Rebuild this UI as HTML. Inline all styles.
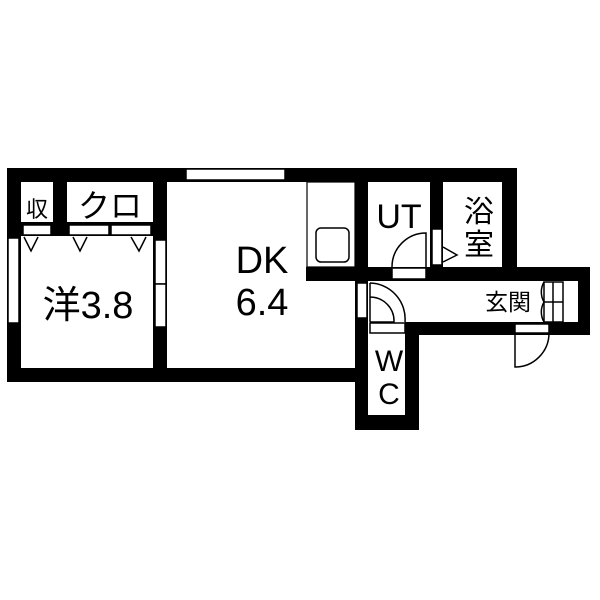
<!DOCTYPE html>
<html><head><meta charset="utf-8"><style>html,body{margin:0;padding:0;background:#fff}svg{display:block}</style></head><body>
<svg width="600" height="600" viewBox="0 0 600 600" xmlns="http://www.w3.org/2000/svg" font-family="Liberation Sans, Noto Sans CJK JP, sans-serif">
<rect width="600" height="600" fill="#fff"/>
<g fill="#000">
<!-- outer main block -->
<rect x="7" y="168" width="510" height="14"/>
<rect x="7" y="168" width="14" height="214"/>
<rect x="7" y="368" width="361" height="14"/>
<rect x="502" y="168" width="15" height="113"/>
<rect x="53" y="182" width="14" height="54"/>
<rect x="153" y="182" width="14" height="186"/>
<rect x="21" y="222" width="132" height="14"/>
<rect x="355" y="182" width="13" height="99"/>
<rect x="430" y="182" width="13" height="99"/>
<rect x="306" y="267" width="284" height="14"/>
<rect x="578" y="267" width="12" height="68"/>
<rect x="405" y="322" width="185" height="13"/>
<rect x="355" y="281" width="13" height="149"/>
<rect x="405" y="322" width="14" height="108"/>
<rect x="355" y="415" width="64" height="15"/>
</g>
<g fill="#fff" stroke="#000" stroke-width="1.5">
<!-- windows -->
<rect x="186" y="169" width="99" height="11"/>
<rect x="8" y="238" width="11" height="85"/>
<rect x="155" y="240" width="11" height="44"/>
<rect x="155" y="284" width="11" height="43"/>
<rect x="357" y="283" width="10" height="35"/>
<!-- closet strips -->
<rect x="23" y="225" width="28" height="10"/>
<rect x="69" y="225" width="40" height="10"/>
<rect x="111" y="225" width="40" height="10"/>
<!-- door strips -->
<rect x="432" y="229" width="10" height="36"/>
<rect x="392" y="268" width="34" height="11"/>
<rect x="370" y="323" width="35" height="10"/>
<rect x="515" y="324" width="34" height="9"/>
<!-- kitchen -->
<rect x="307" y="182" width="48" height="85" stroke-width="1.2"/>
<rect x="316" y="228" width="33" height="34" rx="5"/>
</g>
<g fill="none" stroke="#000" stroke-width="1.5">
<polyline points="24,237 31,251 38,237"/>
<polyline points="73,237 80,251 87,237"/>
<polyline points="131,237 139,251 146,237"/>
<polyline points="443,247 457,255 443,262"/>
<path d="M392,267 A34,34 0 0 1 426,233 L426,267"/>
<path d="M370,283 A36,36 0 0 1 405,322 M370,283 L370,322 M370,297 A24,24 0 0 1 394,322 L370,322"/>
<path d="M549,333 A34,34 0 0 1 515,367 L515,333"/>
<rect x="544" y="282" width="19" height="40"/>
<path d="M553,282 V322 M544,302 H563 M544,282 A20,20 0 0 0 544,302 A20,20 0 0 0 544,322"/>
</g>
<g fill="#000" text-anchor="middle">
<text x="37" y="217" font-size="22">収</text>
<text x="110" y="217" font-size="32">クロ</text>
<text x="88" y="318" font-size="38">洋3.8</text>
<text x="262" y="273" font-size="38">DK</text>
<text x="262" y="315" font-size="38">6.4</text>
<text x="399" y="228" font-size="34">UT</text>
<text x="479" y="222" font-size="30">浴</text>
<text x="479" y="255" font-size="30">室</text>
<text x="508" y="310" font-size="23">玄関</text>
<text x="389" y="371" font-size="30">W</text>
<text x="389" y="404" font-size="30">C</text>
</g>
</svg>
</body></html>
